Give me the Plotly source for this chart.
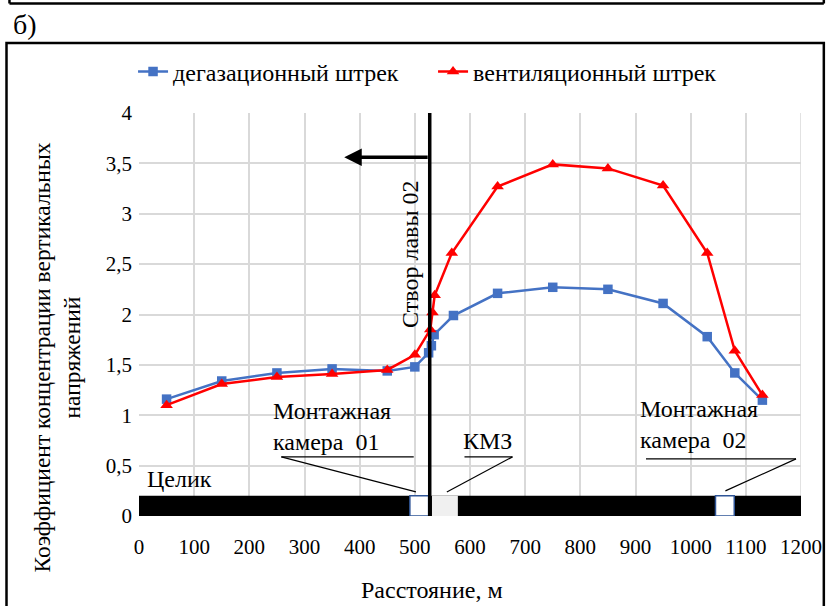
import plotly.graph_objects as go

# ---------------- data ----------------
degas_x = [50, 150, 250, 350, 450, 500, 525, 530, 535, 570, 650, 750, 850, 950, 1030, 1080, 1130]
degas_y = [1.16, 1.34, 1.42, 1.46, 1.44, 1.48, 1.62, 1.69, 1.80, 1.99, 2.21, 2.27, 2.25, 2.11, 1.78, 1.42, 1.15]

vent_x = [50, 150, 250, 350, 450, 500, 528, 532, 536, 567, 650, 750, 850, 950, 1030, 1080, 1130]
vent_y = [1.10, 1.31, 1.38, 1.41, 1.45, 1.60, 1.85, 2.02, 2.19, 2.61, 3.27, 3.49, 3.45, 3.28, 2.61, 1.64, 1.20]

x_ticks = [0, 100, 200, 300, 400, 500, 600, 700, 800, 900, 1000, 1100, 1200]
x_ticklabels = ["0", "100", "200", "300", "400", "500", "600", "700", "800", "900", "1000", "1100", "1200"]
y_ticks = [0, 0.5, 1, 1.5, 2, 2.5, 3, 3.5, 4]
y_ticklabels = ["0", "0,5", "1", "1,5", "2", "2,5", "3", "3,5", "4"]

series_names = ["дегазационный штрек", "вентиляционный штрек"]

# geology strip / markers (data units)
strip_x = [0, 1200]
strip_top = 0.2
cam01_x = [491, 525]
kmz_x = [531, 578]
cam02_x = [1045, 1079]
front_x = 527

FONT = "Times New Roman, Liberation Serif, serif"
BLUE = "#4472C4"
RED = "#FF0000"

fig = go.Figure()
fig.add_trace(go.Scatter(x=degas_x, y=degas_y, name=series_names[0], mode="lines+markers",
                         line=dict(color=BLUE, width=2.5),
                         marker=dict(symbol="square", size=9.5, color=BLUE)))
fig.add_trace(go.Scatter(x=vent_x, y=vent_y, name=series_names[1], mode="lines+markers",
                         line=dict(color=RED, width=2.5),
                         marker=dict(symbol="triangle-up", size=11, color=RED)))

shapes = []
shapes.append(dict(type="line", xref="x", yref="paper", x0=1200, x1=1200, y0=0, y1=1,
                   line=dict(color="#d9d9d9", width=1.5), layer="below"))
shapes.append(dict(type="rect", xref="x", yref="y", x0=strip_x[0], x1=strip_x[1], y0=0, y1=strip_top,
                   fillcolor="black", line=dict(width=0)))
shapes.append(dict(type="rect", xref="x", yref="y", x0=cam01_x[0], x1=cam01_x[1], y0=0, y1=strip_top,
                   fillcolor="white", line=dict(color="#2F5597", width=1.5)))
shapes.append(dict(type="rect", xref="x", yref="y", x0=kmz_x[0], x1=kmz_x[1], y0=0, y1=strip_top,
                   fillcolor="#f0f0f0", line=dict(width=0)))
shapes.append(dict(type="rect", xref="x", yref="y", x0=cam02_x[0], x1=cam02_x[1], y0=0, y1=strip_top,
                   fillcolor="white", line=dict(color="#2F5597", width=1.5)))
shapes.append(dict(type="line", xref="x", yref="y", x0=front_x, x1=front_x, y0=0, y1=4.02,
                   line=dict(color="black", width=3.5)))
callouts = [
    [(258, 0.587), (498, 0.587)], [(258, 0.587), (502, 0.239)],
    [(590, 0.587), (677, 0.587)], [(677, 0.587), (558, 0.239)],
    [(919, 0.567), (1191, 0.567)], [(1191, 0.567), (1063, 0.249)],
]
for (a, b) in callouts:
    shapes.append(dict(type="line", xref="x", yref="y", x0=a[0], y0=a[1], x1=b[0], y1=b[1],
                       line=dict(color="black", width=1.2)))

# paper coords relative to plot area: l=139, width 667, t=113, height 403
def px(xp):
    return (xp - 139) / 667.0
def py(yp):
    return (516 - yp) / 403.0

shapes.append(dict(type="rect", xref="paper", yref="paper", x0=px(5.5), x1=px(829), y0=py(620), y1=py(43),
                   line=dict(color="black", width=2.5), fillcolor="rgba(0,0,0,0)"))
shapes.append(dict(type="line", xref="paper", yref="paper", x0=px(8.5), x1=px(829), y0=py(3.5), y1=py(3.5),
                   line=dict(color="black", width=2.5)))
shapes.append(dict(type="line", xref="paper", yref="paper", x0=px(8.5), x1=px(8.5), y0=py(3.5), y1=py(-10),
                   line=dict(color="black", width=2.5)))
shapes.append(dict(type="line", xref="paper", yref="paper", x0=px(829), x1=px(829), y0=py(3.5), y1=py(-10),
                   line=dict(color="black", width=2.5)))

annotations = []
tf = dict(family=FONT, size=24, color="black")
annotations.append(dict(x=372, y=3.56, ax=front_x - 1, ay=3.56, xref="x", yref="y", axref="x", ayref="y",
                        text="", showarrow=True, arrowhead=2, arrowsize=1, arrowwidth=3.5, arrowcolor="black",
                        standoff=0, startstandoff=0))
annotations.append(dict(x=491, y=2.6, xref="x", yref="y", text="Створ лавы 02", textangle=-90,
                        xanchor="center", yanchor="middle", showarrow=False, font=tf))
annotations.append(dict(x=240, y=0.885, xref="x", yref="y", text="Монтажная<br>камера  01", align="left",
                        xanchor="left", yanchor="middle", showarrow=False, font=tf))
annotations.append(dict(x=583, y=0.74, xref="x", yref="y", text="КМЗ", xanchor="left", yanchor="middle",
                        showarrow=False, font=tf))
annotations.append(dict(x=904, y=0.91, xref="x", yref="y", text="Монтажная<br>камера  02", align="left",
                        xanchor="left", yanchor="middle", showarrow=False, font=tf))
annotations.append(dict(x=10, y=0.37, xref="x", yref="y", text="Целик", xanchor="left", yanchor="middle",
                        showarrow=False, font=tf))
annotations.append(dict(x=px(10), y=py(24), xref="paper", yref="paper", text="б)", xanchor="left",
                        yanchor="middle", showarrow=False, font=dict(family=FONT, size=28, color="black")))
annotations.append(dict(x=px(56), y=py(358), xref="paper", yref="paper",
                        text="Коэффициент концентрации вертикальных<br>напряжений", textangle=-90,
                        xanchor="center", yanchor="middle",
                        showarrow=False, font=dict(family=FONT, size=23.5, color="black")))
annotations.append(dict(x=px(434), y=py(590), xref="paper", yref="paper", text="Расстояние, м",
                        xanchor="center", yanchor="middle", showarrow=False, font=tf))

fig.update_layout(
    width=834, height=606,
    margin=dict(l=139, r=28, t=113, b=90),
    paper_bgcolor="white", plot_bgcolor="white",
    font=dict(family=FONT, size=20, color="black"),
    shapes=shapes, annotations=annotations,
    showlegend=True,
    legend=dict(orientation="h", x=px(133), y=py(72), xanchor="left", yanchor="middle",
                font=dict(family=FONT, size=24), bgcolor="rgba(0,0,0,0)", itemwidth=30,
                entrywidth=255, entrywidthmode="pixels", tracegroupgap=0),
    xaxis=dict(range=[0, 1200], tickvals=x_ticks, ticktext=x_ticklabels, showgrid=True,
               gridcolor="#d9d9d9", gridwidth=1.5, zeroline=False, showline=False, ticks="",
               tickfont=dict(family=FONT, size=21), ticklabelstandoff=16),
    yaxis=dict(range=[0, 4], tickvals=y_ticks, ticktext=y_ticklabels, showgrid=True,
               gridcolor="#d9d9d9", gridwidth=1.5, zeroline=False, showline=False, ticks="",
               tickfont=dict(family=FONT, size=21), ticklabelstandoff=6),
)

fig.write_html("out.html")
